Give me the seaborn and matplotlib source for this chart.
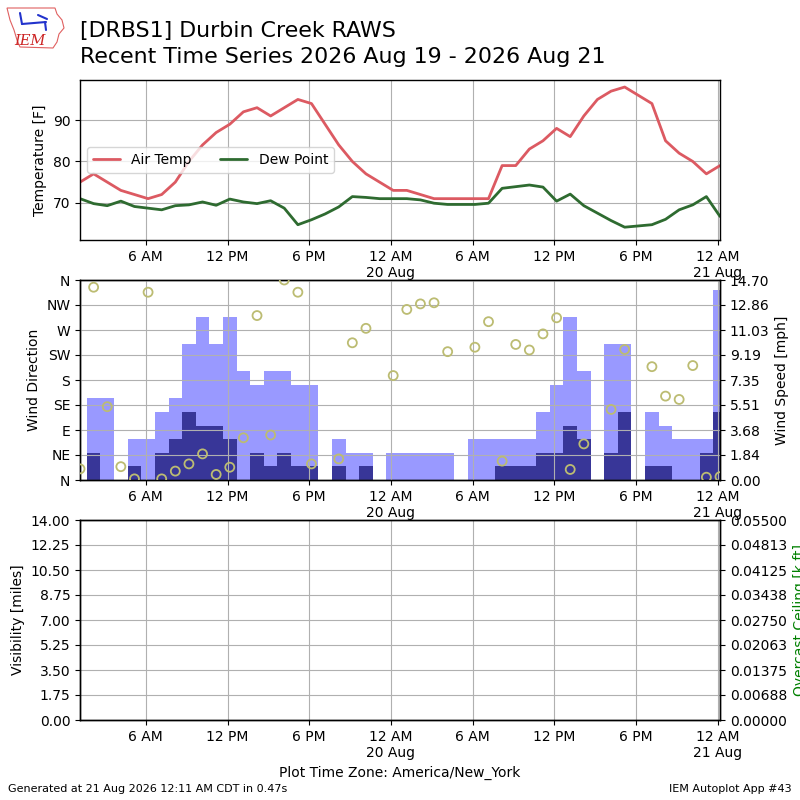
import numpy as np
import pandas as pd
import matplotlib
matplotlib.use("Agg")
import matplotlib.pyplot as plt
import matplotlib.dates as mdates
from matplotlib.ticker import FuncFormatter
from matplotlib.patches import Polygon
from matplotlib.lines import Line2D
import seaborn as sns

# ---------------- data ----------------
times = pd.date_range("2026-08-19 01:10", periods=48, freq="h")

air_temp = [75, 77, 75, 73, 72, 71, 72, 75, 80, 84, 87, 89, 92, 93, 91, 93, 95, 94, 89, 84, 80, 77, 75, 73,
            73, 72, 71, 71, 71, 71, 71, 79, 79, 83, 85, 88, 86, 91, 95, 97, 98, 96, 94, 85, 82, 80, 77, 79]
dew_point = [71.0, 69.8, 69.3, 70.4, 69.1, 68.7, 68.3, 69.3, 69.5, 70.2, 69.4, 70.9, 70.2, 69.8, 70.5, 68.7,
             64.7, 65.9, 67.3, 69.0, 71.5, 71.3, 71.0, 71.0,
             71.0, 70.7, 69.9, 69.6, 69.6, 69.6, 69.9, 73.5, 73.9, 74.3, 73.8, 70.4, 72.1, 69.3, 67.5, 65.7,
             64.1, 64.4, 64.7, 66.0, 68.3, 69.5, 71.5, 66.7]
wind_gust = [0, 6, 6, 0, 3, 3, 5, 6, 10, 12, 10, 12, 8, 7, 8, 8, 7, 7, 0, 3, 2, 2, 0, 2,
             2, 2, 2, 2, 0, 3, 3, 3, 3, 3, 5, 7, 12, 8, 0, 10, 10, 0, 5, 4, 3, 3, 3, 14]
wind_speed = [0, 2, 0, 0, 1, 0, 2, 3, 5, 4, 4, 3, 0, 2, 1, 2, 1, 1, 0, 1, 0, 1, 0, 0,
              0, 0, 0, 0, 0, 0, 0, 1, 1, 1, 2, 2, 4, 3, 0, 2, 5, 0, 1, 1, 0, 0, 2, 5]
nan = np.nan
wind_dir = [20, 347, 132, 24, 2, 338, 2, 16, 29, 47, 10, 23, 76, 296, 81, 360, 338, 29, nan, 38, 247, 273, nan, 188,
            307, 317, 319, 231, nan, 239, 285, 34, 244, 234, 263, 292, 19, 65, nan, 127, 235, nan, 204, 151, 145, 206, 5, 6]
dir_labels = ["N", "NE", "E", "SE", "S", "SW", "W", "NW", "N"]
vis_max = 14.0
ceil_max = 0.055

df = pd.DataFrame({"valid": times, "tmpf": air_temp, "dwpf": dew_point,
                   "gust": wind_gust, "sknt": wind_speed, "drct": wind_dir})

# ---------------- style ----------------
sns.set_style("ticks")
plt.rcParams["font.family"] = ["DejaVu Sans"]
plt.rcParams["axes.grid"] = True
plt.rcParams["grid.color"] = "#b0b0b0"
plt.rcParams["grid.linewidth"] = 0.8
plt.rcParams["axes.edgecolor"] = "black"
plt.rcParams["xtick.color"] = "black"
plt.rcParams["ytick.color"] = "black"
plt.rcParams["axes.labelcolor"] = "black"
plt.rcParams["text.color"] = "black"
plt.rcParams["xtick.labelsize"] = 10
plt.rcParams["ytick.labelsize"] = 10
plt.rcParams["axes.labelsize"] = 10

fig = plt.figure(figsize=(8, 8), dpi=100)
ax1 = fig.add_axes([0.1, 0.70, 0.8, 0.20])
ax2 = fig.add_axes([0.1, 0.40, 0.8, 0.25], sharex=ax1)
ax3 = fig.add_axes([0.1, 0.10, 0.8, 0.25], sharex=ax1)


def tfmt(x, pos=None):
    d = mdates.num2date(x)
    h = d.hour
    if h == 0:
        return "12 AM\n%d %s" % (d.day, d.strftime("%b"))
    if h == 12:
        return "12 PM"
    if h < 12:
        return "%d AM" % h
    return "%d PM" % (h - 12)


# ---------------- temperature panel ----------------
sns.lineplot(data=df, x="valid", y="tmpf", ax=ax1, color="#dc5a62", lw=2, label="Air Temp")
sns.lineplot(data=df, x="valid", y="dwpf", ax=ax1, color="#2e6b30", lw=2, label="Dew Point")
ax1.set_ylim(61.0, 99.7)
ax1.set_yticks([70, 80, 90])
ax1.set_ylabel("Temperature [F]")
ax1.set_xlabel("")
ax1.legend(loc="center left", ncol=2, fontsize=10)
ax1.grid(True)

# ---------------- wind panel ----------------
ax2b = ax2.twinx()
ax2b.bar(df["valid"], df["gust"], width=1 / 24.0, color="#9999ff", linewidth=0)
ax2b.bar(df["valid"], df["sknt"], width=1 / 24.0, color="#383698", linewidth=0)
smax = max(wind_gust) * 1.05
ax2b.set_ylim(0, smax)
ax2b.set_yticks(np.linspace(0, smax, 9))
ax2b.yaxis.set_major_formatter(FuncFormatter(lambda v, p: "%.2f" % v))
ax2b.set_ylabel("Wind Speed [mph]")
ax2b.grid(False)

ax2.set_zorder(ax2b.get_zorder() + 1)
ax2.patch.set_visible(False)
sns.scatterplot(data=df, x="valid", y="drct", ax=ax2, facecolor="none", edgecolor="#bcbc72",
                s=42, linewidth=1.3, zorder=5)
ax2.set_ylim(0, 360)
ax2.set_yticks(np.arange(0, 361, 45))
ax2.set_yticklabels(dir_labels)
ax2.set_ylabel("Wind Direction")
ax2.set_xlabel("")
ax2.grid(True)

# ---------------- visibility panel ----------------
ax3.set_ylim(0, vis_max)
ax3.set_yticks(np.linspace(0, vis_max, 9))
ax3.yaxis.set_major_formatter(FuncFormatter(lambda v, p: "%.2f" % v))
ax3.set_ylabel("Visibility [miles]")
ax3.grid(True)
ax3b = ax3.twinx()
ax3b.set_ylim(0, ceil_max)
ax3b.set_yticks(np.linspace(0, ceil_max, 9))
ax3b.yaxis.set_major_formatter(FuncFormatter(lambda v, p: "%.5f" % v))
ax3b.set_ylabel("Overcast Ceiling [k ft]", color="green")
ax3b.grid(False)
ax3.set_xlabel("Plot Time Zone: America/New_York")

for ax in (ax1, ax2, ax3):
    ax.xaxis.set_major_locator(mdates.HourLocator(byhour=[0, 6, 12, 18]))
    ax.xaxis.set_major_formatter(FuncFormatter(tfmt))
    ax.tick_params(axis="x", labelbottom=True)
ax1.set_xlim(times[0], times[-1])

for ax in (ax1, ax2, ax2b, ax3, ax3b):
    for s in ax.spines.values():
        s.set_visible(True)
        s.set_color("black")
        s.set_linewidth(1.0)
    ax.tick_params(direction="out", length=3.5, width=0.8)

# ---------------- header (logo + title) ----------------
def px(x, y):
    return (x / 800.0, 1 - y / 800.0)

logo_outline = [px(7, 8), px(55, 8), px(57, 14), px(62, 20), px(64, 28), px(59, 34),
                px(57, 42), px(53, 48), px(20, 47), px(17, 40), px(14, 30), px(10, 20)]
fig.patches.append(Polygon(logo_outline, closed=True, fill=False, edgecolor="#e06060",
                           linewidth=0.8, transform=fig.transFigure))
for seg in ([(22, 24), (46, 22)], [(20, 13), (22, 24)], [(38, 15), (47, 19)], [(45, 22), (46, 30)]):
    (xa, ya), (xb, yb) = seg
    pa, pb = px(xa, ya), px(xb, yb)
    fig.lines.append(Line2D([pa[0], pb[0]], [pa[1], pb[1]], color="#2233cc", lw=1.5,
                            transform=fig.transFigure))
fig.text(px(30, 0)[0], 1 - 41 / 800.0, "IEM", fontsize=10.5, color="#cc2222", style="italic",
         family="DejaVu Serif", ha="center", va="center")

fig.text(0.1, 1 - 37.3 / 800.0, "[DRBS1] Durbin Creek RAWS", fontsize=15.9, ha="left", va="baseline")
fig.text(0.1, 1 - 63.3 / 800.0, "Recent Time Series 2026 Aug 19 - 2026 Aug 21", fontsize=15.9,
         ha="left", va="baseline")

# ---------------- footer ----------------
fig.text(0.01, 0.014, "Generated at 21 Aug 2026 12:11 AM CDT in 0.47s", fontsize=8, ha="left", va="center")
fig.text(0.989, 0.014, "IEM Autoplot App #43", fontsize=8, ha="right", va="center")

fig.savefig("out.png", dpi=100)
